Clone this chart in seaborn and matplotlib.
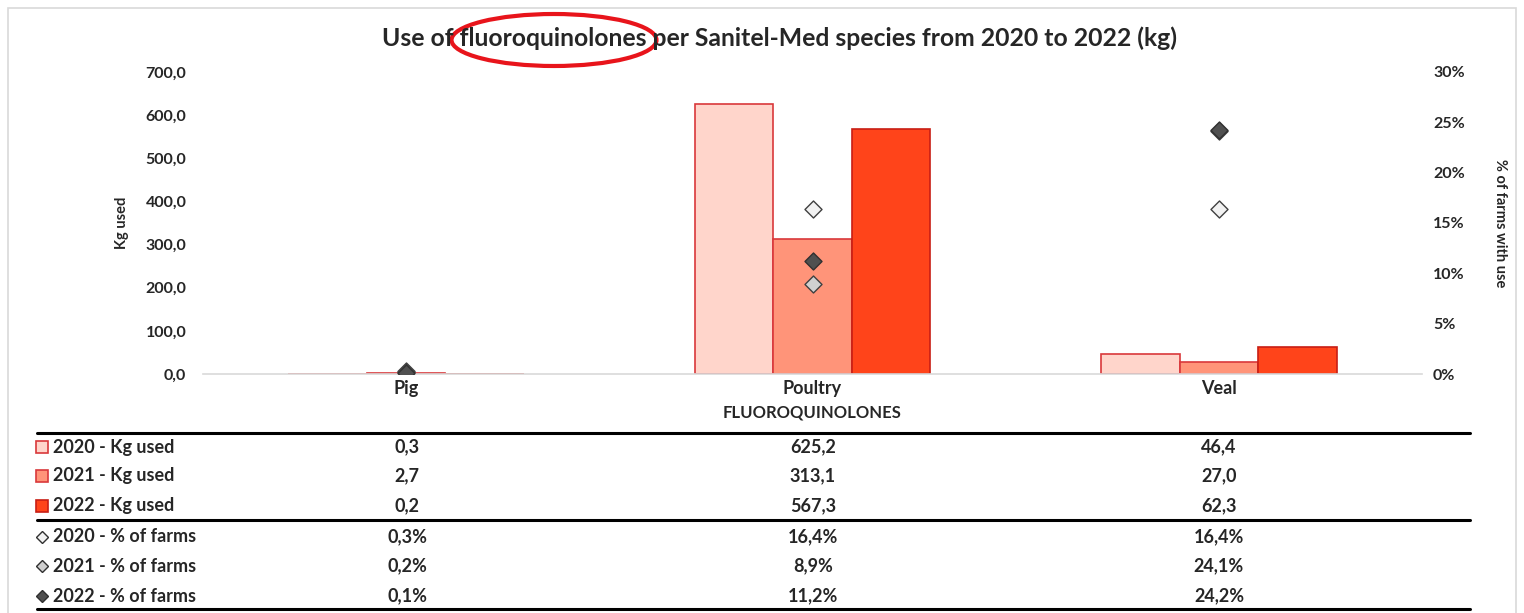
import numpy as np
import pandas as pd
import matplotlib
matplotlib.use("Agg")
import matplotlib.pyplot as plt
import seaborn as sns
from matplotlib.lines import Line2D
from matplotlib.patches import Ellipse, Rectangle
from matplotlib.ticker import FuncFormatter

species = ["Pig", "Poultry", "Veal"]
years = ["2020", "2021", "2022"]
kg_2020 = [0.3, 625.2, 46.4]
kg_2021 = [2.7, 313.1, 27.0]
kg_2022 = [0.2, 567.3, 62.3]
pct_2020 = [0.3, 16.4, 16.4]
pct_2021 = [0.2, 8.9, 24.1]
pct_2022 = [0.1, 11.2, 24.2]

bar_fill = ["#FFD5CB", "#FF9479", "#FF441A"]
bar_edge = ["#D9383B", "#D9383B", "#C81E14"]
dia_fill = ["#F2F2F2", "#D0D0D0", "#505050"]
dia_edge = ["#404040", "#404040", "#303030"]

sns.set_theme(style="white")
FONT = ["Lato", "DejaVu Sans"]
plt.rcParams["font.family"] = FONT

W, H = 1524, 613
fig = plt.figure(figsize=(W / 100, H / 100), dpi=100)

def fx(px):
    return px / W

def fy(py):
    return 1 - py / H

left, right, top, bottom = 203, 1422, 72, 374
ax = fig.add_axes([fx(left), fy(bottom), fx(right - left), (bottom - top) / H])

df = pd.DataFrame({
    "species": species * 3,
    "year": [y for y in years for _ in species],
    "kg": kg_2020 + kg_2021 + kg_2022,
})
sns.barplot(data=df, x="species", y="kg", hue="year", palette=bar_fill,
            width=0.58, ax=ax, legend=False, linewidth=1.2, saturation=1)
for i, cont in enumerate(ax.containers):
    for p in cont:
        p.set_edgecolor(bar_edge[i])

ax.set_ylim(0, 700)
ax.set_xlim(-0.5, 2.5)
ax.set_yticks(np.arange(0, 701, 100))
ax.yaxis.set_major_formatter(FuncFormatter(lambda v, _: f"{v:.1f}".replace(".", ",")))
for s in ["top", "right", "left"]:
    ax.spines[s].set_visible(False)
ax.spines["bottom"].set_color("#D9D9D9")
ax.spines["bottom"].set_linewidth(1.2)
ax.tick_params(axis="y", length=0, pad=12, labelsize=11.5)
ax.tick_params(axis="x", length=0, pad=4, labelsize=13)
for lab in ax.get_yticklabels() + ax.get_xticklabels():
    lab.set_fontweight("bold")
ax.set_xlabel("FLUOROQUINOLONES", fontsize=12, fontweight="bold", labelpad=6)
ax.set_ylabel("Kg used", fontsize=10.5, fontweight="bold", labelpad=12)
ax.set_facecolor("none")

ax2 = ax.twinx()
pdf = pd.DataFrame({
    "x": list(range(len(species))) * 3,
    "year": [y for y in years for _ in species],
    "pct": [v / 100 for v in pct_2020 + pct_2021 + pct_2022],
})
for i, y in enumerate(years):
    sub = pdf[pdf["year"] == y]
    sns.scatterplot(data=sub, x="x", y="pct", ax=ax2, marker="D", s=75,
                    color=dia_fill[i], edgecolor=dia_edge[i], linewidth=1.0,
                    zorder=5, legend=False)
ax2.set_ylim(0, 0.30)
ax2.set_xlim(-0.5, 2.5)
ax2.set_yticks(np.arange(0, 0.301, 0.05))
ax2.yaxis.set_major_formatter(FuncFormatter(lambda v, _: f"{round(v*100)}%"))
for s in ["top", "right", "left", "bottom"]:
    ax2.spines[s].set_visible(False)
ax2.tick_params(axis="y", length=0, pad=8, labelsize=11.5)
for lab in ax2.get_yticklabels():
    lab.set_fontweight("bold")
ax2.set_ylabel("% of farms with use", fontsize=10.5, fontweight="bold",
               rotation=270, labelpad=30)
ax2.set_xlabel("")

# Title
fig.text(fx(780), fy(38), "Use of fluoroquinolones per Sanitel-Med species from 2020 to 2022 (kg)",
         ha="center", va="center", fontsize=17.8, fontweight="bold")
fig.add_artist(Ellipse((fx(554), fy(40)), fx(205), 52 / H, transform=fig.transFigure,
                       fill=False, edgecolor="#E8141B", linewidth=3))

# Chart border
fig.add_artist(Rectangle((fx(8), fy(640)), fx(1508), 632 / H, transform=fig.transFigure,
                         fill=False, edgecolor="#D9D9D9", linewidth=1.2))

# Data table
row_y = [447, 476, 506, 537, 566, 596]
labels = ["2020 - Kg used", "2021 - Kg used", "2022 - Kg used",
          "2020 - % of farms", "2021 - % of farms", "2022 - % of farms"]
col_x = [407, 813, 1219]
rows = [kg_2020, kg_2021, kg_2022, pct_2020, pct_2021, pct_2022]
for r, (yy, lab, vals) in enumerate(zip(row_y, labels, rows)):
    if r < 3:
        fig.add_artist(Line2D([fx(42)], [fy(yy)], marker="s", markersize=9,
                              markerfacecolor=bar_fill[r], markeredgecolor=bar_edge[r],
                              markeredgewidth=1.2, transform=fig.transFigure))
        txt = [f"{v:.1f}".replace(".", ",") for v in vals]
    else:
        k = r - 3
        fig.add_artist(Line2D([fx(42)], [fy(yy)], marker="D", markersize=6.5,
                              markerfacecolor=dia_fill[k], markeredgecolor="#303030",
                              markeredgewidth=1.0, transform=fig.transFigure))
        txt = [f"{v:.1f}%".replace(".", ",") for v in vals]
    fig.text(fx(53), fy(yy), lab, ha="left", va="center", fontsize=13, fontweight="bold")
    for cx, t in zip(col_x, txt):
        fig.text(fx(cx), fy(yy), t, ha="center", va="center", fontsize=13, fontweight="bold")

for ly in [433, 520, 609]:
    fig.add_artist(Line2D([fx(37), fx(1470)], [fy(ly), fy(ly)], color="black",
                          linewidth=2.2, transform=fig.transFigure))

fig.savefig("out.png", dpi=100)
